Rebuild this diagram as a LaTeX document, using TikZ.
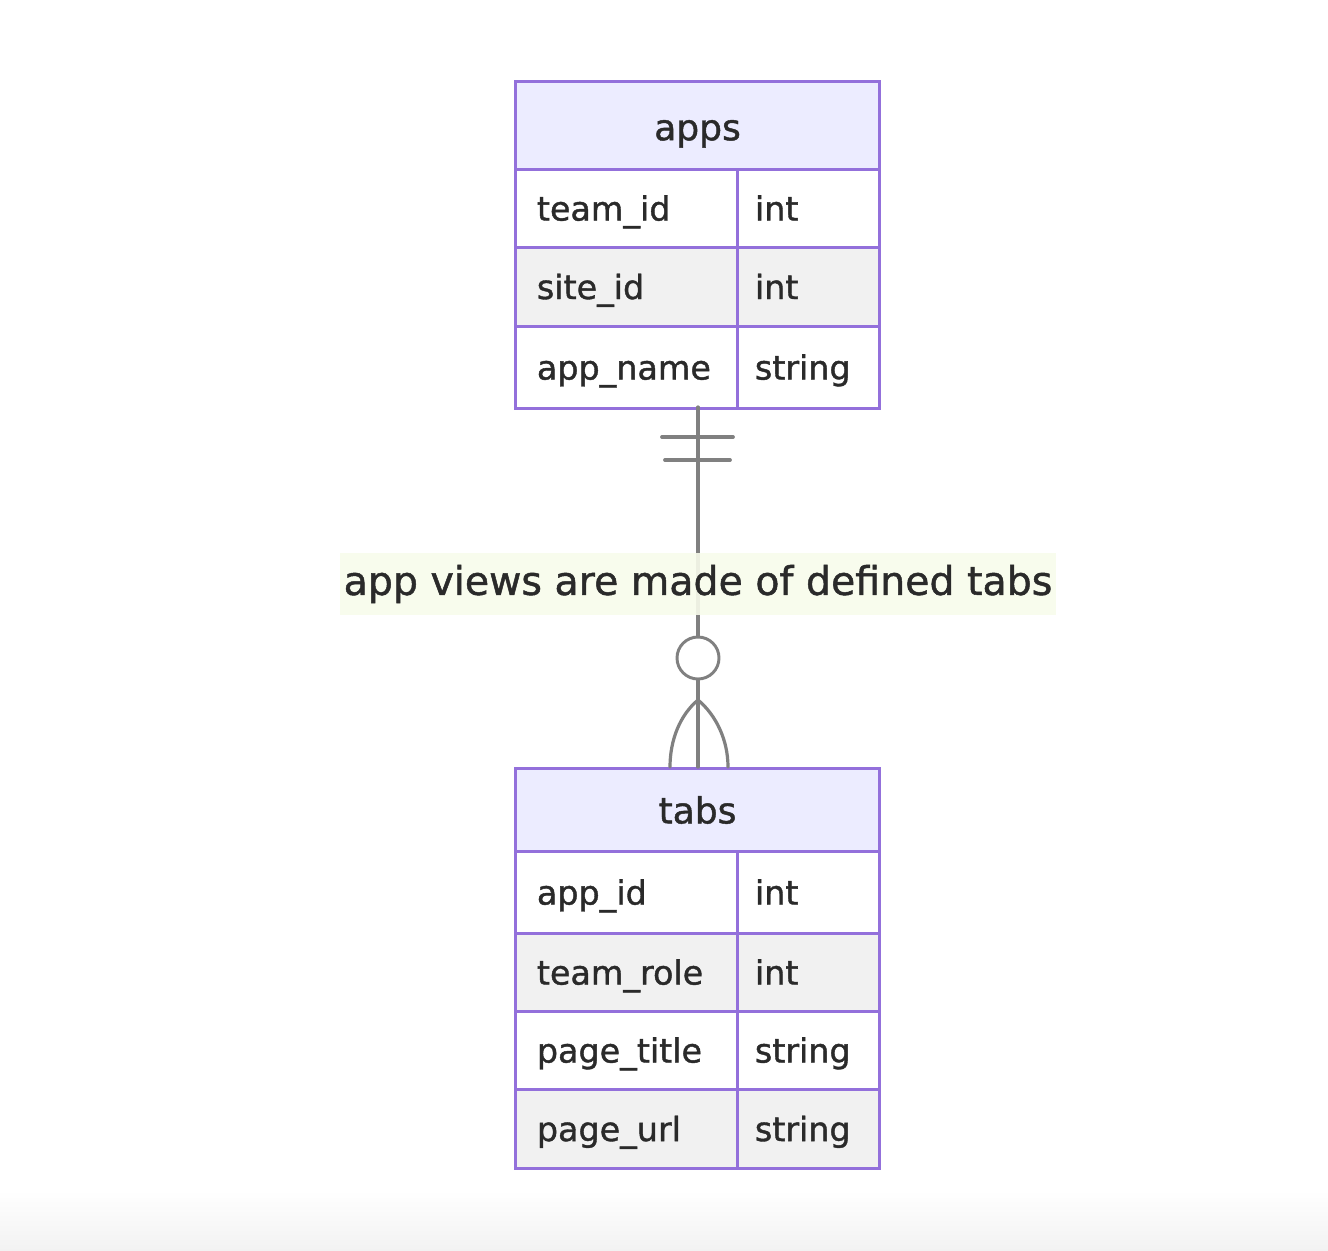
\documentclass[tikz,border=0pt]{standalone}
\usepackage{fontspec}
\setmainfont{DejaVu Sans}[UprightFeatures={FakeBold=1.2}]
\definecolor{erline}{HTML}{9370DB}
\definecolor{erhead}{HTML}{ECECFF}
\definecolor{erodd}{HTML}{FFFFFF}
\definecolor{ereven}{HTML}{F1F1F1}
\definecolor{relline}{HTML}{808080}
\definecolor{lblbg}{HTML}{F8FCEC}
\definecolor{txt}{HTML}{2A2A2A}
\tikzset{
  cellbox/.style={draw=erline, line width=2.3pt, inner sep=0pt, anchor=north west},
  headbox/.style={cellbox, fill=erhead},
  oddbox/.style={cellbox, fill=erodd},
  evenbox/.style={cellbox, fill=ereven},
  celltext/.style={anchor=base west, text=txt, font=\fontsize{25}{30}\selectfont, inner sep=0pt},
  headtext/.style={anchor=base, text=txt, font=\fontsize{27}{32}\selectfont, inner sep=0pt},
  rel/.style={draw=relline, line width=2.4pt, line cap=round},
}
\begin{document}
\begin{tikzpicture}[x=0.75pt, y=-0.75pt]
\useasboundingbox (0,0) rectangle (1328,1250);
\fill[white] (0,0) rectangle (1328,1250);
\shade[top color=white, bottom color=black!5] (0,1190) rectangle (1328,1250);

% ---------- apps ----------
\node[headbox, minimum width=273pt, minimum height=66pt] (appsH) at (514,80) {};
\node[headtext] (appsT) at ([yshift=-11pt]appsH.center) {apps};
% row 1
\node[oddbox, minimum width=166.5pt, minimum height=58.5pt] (a1n) at (514,168) {};
\node[oddbox, minimum width=106.5pt, minimum height=58.5pt] (a1t) at (736,168) {};
\node[celltext] at ([xshift=17pt,yshift=-9pt]a1n.west) {team\_id};
\node[celltext] at ([xshift=14pt,yshift=-9pt]a1t.west) {int};
% row 2
\node[evenbox, minimum width=166.5pt, minimum height=59.25pt] (a2n) at (514,246) {};
\node[evenbox, minimum width=106.5pt, minimum height=59.25pt] (a2t) at (736,246) {};
\node[celltext] at ([xshift=17pt,yshift=-9pt]a2n.west) {site\_id};
\node[celltext] at ([xshift=14pt,yshift=-9pt]a2t.west) {int};
% row 3
\node[oddbox, minimum width=166.5pt, minimum height=61.5pt] (a3n) at (514,325) {};
\node[oddbox, minimum width=106.5pt, minimum height=61.5pt] (a3t) at (736,325) {};
\node[celltext] at ([xshift=17pt,yshift=-9pt]a3n.west) {app\_name};
\node[celltext] at ([xshift=14pt,yshift=-9pt]a3t.west) {string};

% ---------- tabs ----------
\node[headbox, minimum width=273pt, minimum height=62.25pt] (tabsH) at (514,767) {};
\node[headtext] (tabsT) at ([yshift=-10pt]tabsH.center) {tabs};
% row 1
\node[oddbox, minimum width=166.5pt, minimum height=61.5pt] (t1n) at (514,850) {};
\node[oddbox, minimum width=106.5pt, minimum height=61.5pt] (t1t) at (736,850) {};
\node[celltext] at ([xshift=17pt,yshift=-9pt]t1n.west) {app\_id};
\node[celltext] at ([xshift=14pt,yshift=-9pt]t1t.west) {int};
% row 2
\node[evenbox, minimum width=166.5pt, minimum height=58.5pt] (t2n) at (514,932) {};
\node[evenbox, minimum width=106.5pt, minimum height=58.5pt] (t2t) at (736,932) {};
\node[celltext] at ([xshift=17pt,yshift=-9pt]t2n.west) {team\_role};
\node[celltext] at ([xshift=14pt,yshift=-9pt]t2t.west) {int};
% row 3
\node[oddbox, minimum width=166.5pt, minimum height=58.5pt] (t3n) at (514,1010) {};
\node[oddbox, minimum width=106.5pt, minimum height=58.5pt] (t3t) at (736,1010) {};
\node[celltext] at ([xshift=17pt,yshift=-9pt]t3n.west) {page\_title};
\node[celltext] at ([xshift=14pt,yshift=-9pt]t3t.west) {string};
% row 4
\node[evenbox, minimum width=166.5pt, minimum height=59.25pt] (t4n) at (514,1088) {};
\node[evenbox, minimum width=106.5pt, minimum height=59.25pt] (t4t) at (736,1088) {};
\node[celltext] at ([xshift=17pt,yshift=-9pt]t4n.west) {page\_url};
\node[celltext] at ([xshift=14pt,yshift=-9pt]t4t.west) {string};

% ---------- relationship ----------
\coordinate (relTop) at (698,407);
\coordinate (relBot) at (698,767);
\coordinate (fork) at (698,700);
\coordinate (prongL) at (670,767);
\coordinate (prongR) at (728,767);
\coordinate (b1L) at (662,437); \coordinate (b1R) at (733,437);
\coordinate (b2L) at (665,460); \coordinate (b2R) at (730,460);
\node[circle, draw=relline, line width=2.2pt, fill=white, minimum size=31.5pt, inner sep=0pt] (circ) at (698,658) {};

\draw[rel] (relTop) -- (circ.north);
\draw[rel] (circ.south) -- (relBot);
\draw[rel, line width=2.8pt] (b1L) -- (b1R);
\draw[rel, line width=2.8pt] (b2L) -- (b2R);
\draw[rel] (fork) .. controls (680,715) and (670,740) .. (prongL);
\draw[rel] (fork) .. controls (716,715) and (728,740) .. (prongR);

\node[fill=lblbg, fill opacity=0.9, text opacity=1, text=txt, inner xsep=3pt, inner ysep=9pt,
      font=\fontsize{29.6}{35}\selectfont] (lbl) at (698,584) {app views are made of defined tabs};
\end{tikzpicture}
\end{document}
